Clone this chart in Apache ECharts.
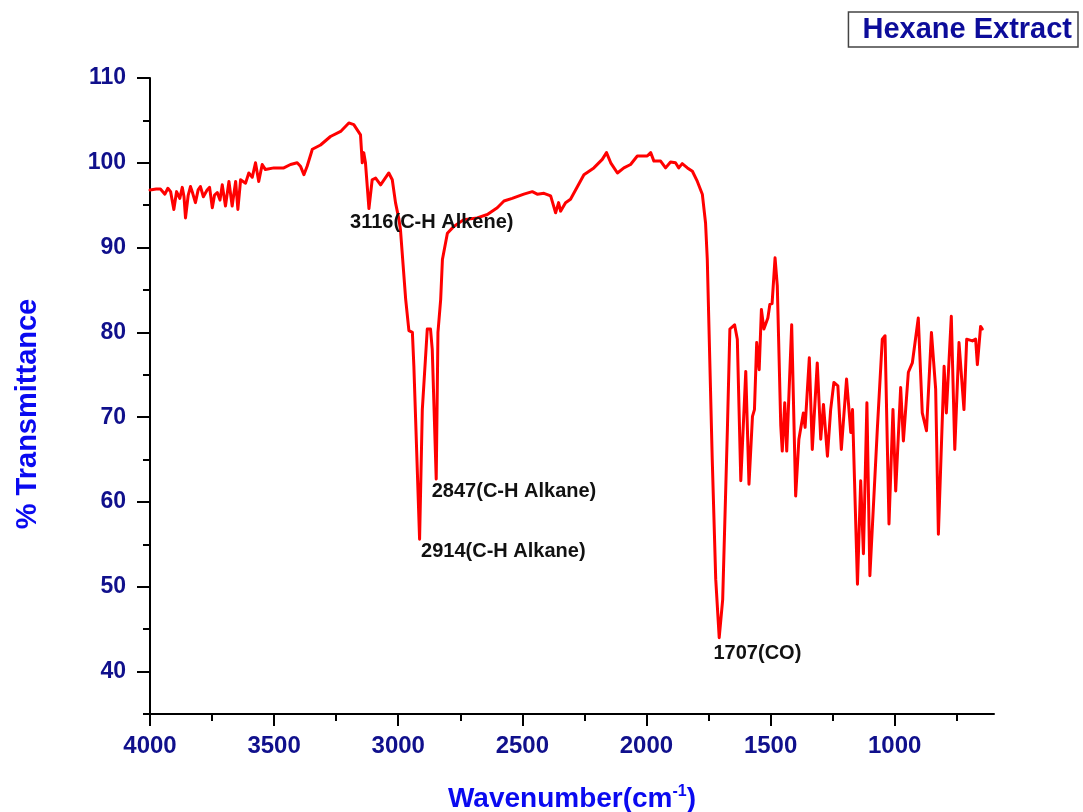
<!DOCTYPE html>
<html>
<head>
<meta charset="utf-8">
<script src="https://cdn.jsdelivr.net/npm/echarts@6/dist/echarts.min.js"></script>
<style>
  html, body { margin: 0; padding: 0; background: #fff; }
  #chart { width: 1083px; height: 812px; }
</style>
</head>
<body>
<div id="chart"></div>
<script>
// FTIR spectrum (cm-1, %T)
var wavenumber = [4000,3975,3958,3940,3928,3917,3904,3893,3880,3870,3863,3857,3846,3837,3828,3817,3806,3797,3785,3770,3760,3749,3740,3729,3718,3709,3696,3682,3669,3655,3646,3635,3615,3602,3588,3575,3562,3548,3535,3501,3461,3434,3407,3394,3380,3367,3346,3313,3273,3232,3199,3179,3152,3145,3139,3132,3118,3105,3091,3071,3038,3024,3011,2997,2991,2970,2957,2943,2937,2914,2903,2883,2870,2863,2847,2840,2829,2822,2802,2776,2736,2682,2641,2601,2574,2541,2494,2460,2440,2413,2386,2366,2354,2346,2326,2306,2252,2212,2178,2161,2144,2117,2091,2064,2037,1997,1983,1970,1943,1923,1903,1883,1870,1856,1835,1815,1795,1775,1762,1755,1735,1721,1707,1693,1674,1664,1645,1634,1620,1600,1587,1573,1565,1556,1546,1537,1527,1511,1503,1494,1482,1473,1459,1453,1443,1435,1415,1399,1386,1368,1361,1344,1332,1312,1298,1287,1271,1258,1245,1229,1215,1194,1177,1170,1150,1137,1126,1112,1100,1070,1050,1039,1023,1007,996,976,965,945,929,905,889,872,852,835,824,801,792,772,758,741,721,710,687,674,667,654,647]
var transmittance = [96.8,96.9,96.9,96.3,97.0,96.6,94.5,96.6,95.8,97.1,96.0,93.5,96.2,97.2,96.4,95.3,96.8,97.2,96.0,96.8,97.1,94.7,96.2,96.5,95.6,97.4,94.9,97.8,94.9,97.8,94.5,98.0,97.6,98.8,98.3,100.0,97.8,99.8,99.2,99.4,99.4,99.8,100.0,99.6,98.6,99.6,101.6,102.1,103.1,103.7,104.7,104.5,103.3,100.0,101.2,100.0,94.6,98.0,98.2,97.4,98.8,98.0,95.3,93.3,92.1,83.9,80.2,80.0,76.0,55.6,70.9,80.4,80.4,78.0,62.7,80.0,83.9,88.6,91.7,92.5,93.3,93.5,93.9,94.7,95.5,95.8,96.3,96.6,96.3,96.4,96.1,94.1,95.3,94.3,95.3,95.7,98.6,99.4,100.4,101.2,100.0,98.8,99.4,99.8,100.8,100.8,101.2,100.2,100.2,99.4,100.1,100.0,99.4,99.9,99.4,99.0,97.8,96.3,92.9,88.6,65.0,50.9,44.0,48.5,68.6,80.4,80.9,79.2,62.5,75.4,62.1,70.1,70.9,78.8,75.6,82.7,80.4,81.7,83.3,83.4,88.8,85.5,69.0,66.0,71.7,66.0,80.9,60.7,67.4,70.5,68.8,77.0,66.2,76.4,67.4,71.5,65.4,70.9,74.1,73.7,66.2,74.5,68.2,70.9,50.3,62.5,53.9,71.7,51.3,68.6,79.2,79.6,57.4,70.9,61.3,73.5,67.2,75.3,76.4,81.7,70.5,68.4,80.0,73.3,56.2,76.0,70.5,81.9,66.2,78.8,70.9,79.2,79.0,79.2,76.2,80.7,80.4]

// peak annotations: text and the data point where the text starts
var peakLabels = ['3116(C-H Alkene)', '2847(C-H Alkane)', '2914(C-H Alkane)', '1707(CO)']
var labelWn = [3196, 2867, 2910, 1732]
var labelT = [93.0, 61.2, 54.2, 42.1]

var xMajorTicks = [1000, 1500, 2000, 2500, 3000, 3500, 4000]
var xMinorTicks = [750, 1250, 1750, 2250, 2750, 3250, 3750]
var yMajorTicks = [40, 50, 60, 70, 80, 90, 100, 110]
var yMinorTicks = [35, 45, 55, 65, 75, 85, 95, 105]

var font = '"Liberation Sans", Arial, sans-serif'
var tickColor = '#10108c'
var titleColor = '#0a0af0'

var points = []
for (var i = 0; i < wavenumber.length; i++) {
  points.push([wavenumber[i], transmittance[i]])
}
var marks = []
for (var j = 0; j < peakLabels.length; j++) {
  marks.push({ name: peakLabels[j], coord: [labelWn[j], labelT[j]] })
}

var axisLineStyle = { color: '#000', width: 2 }

var myChart = echarts.init(document.getElementById('chart'))
var option = {
  backgroundColor: '#fff',
  animation: false,
  grid: { left: 150, right: 89, top: 78, bottom: 98, containLabel: false, outerBoundsMode: 'none' },
  legend: {
    right: 5, top: 12,
    data: [{ name: 'Hexane Extract', icon: 'none' }],
    itemWidth: 0, itemHeight: 0,
    selectedMode: false,
    borderColor: '#444', borderWidth: 1.5,
    padding: [3, 6, 3, 9],
    textStyle: { fontFamily: font, fontSize: 29, fontWeight: 'bold', color: '#0c0c9a' }
  },
  xAxis: [{
    type: 'value', inverse: true, min: 600, max: 4000,
    position: 'bottom',
    axisLine: { show: true, lineStyle: axisLineStyle },
    axisTick: { show: true, customValues: xMajorTicks, length: 12, lineStyle: axisLineStyle },
    axisLabel: {
      customValues: xMajorTicks, margin: 20,
      formatter: function (v) { return String(v) },
      fontFamily: font, fontSize: 24, fontWeight: 'bold', color: tickColor
    },
    splitLine: { show: false },
    name: '{a|Wavenumber(cm}{s|-1}{a|)}',
    nameLocation: 'middle', nameGap: 70,
    nameTextStyle: {
      rich: {
        a: { fontFamily: font, fontSize: 28, fontWeight: 'bold', color: titleColor },
        s: { fontFamily: font, fontSize: 16, fontWeight: 'bold', color: titleColor, verticalAlign: 'top', padding: [0, 0, 14, 0] }
      }
    }
  }, {
    type: 'value', inverse: true, min: 600, max: 4000,
    position: 'bottom',
    axisLine: { show: false },
    axisTick: { show: true, customValues: xMinorTicks, length: 7, lineStyle: axisLineStyle },
    axisLabel: { show: false },
    splitLine: { show: false }
  }],
  yAxis: [{
    type: 'value', min: 35, max: 110,
    position: 'left',
    axisLine: { show: true, lineStyle: axisLineStyle },
    axisTick: { show: true, customValues: yMajorTicks, length: 13, lineStyle: axisLineStyle },
    axisLabel: { customValues: yMajorTicks, margin: 24, fontFamily: font, fontSize: 23, fontWeight: 'bold', color: tickColor },
    splitLine: { show: false },
    name: '% Transmittance',
    nameLocation: 'middle', nameGap: 108, nameRotate: 90,
    nameTextStyle: { fontFamily: font, fontSize: 29, fontWeight: 'bold', color: titleColor, padding: [0, 36, 0, 0] }
  }, {
    type: 'value', min: 35, max: 110,
    position: 'left',
    axisLine: { show: false },
    axisTick: { show: true, customValues: yMinorTicks, length: 7, lineStyle: axisLineStyle },
    axisLabel: { show: false },
    splitLine: { show: false }
  }],
  series: [{
    name: 'Hexane Extract',
    type: 'line',
    xAxisIndex: 0, yAxisIndex: 0,
    data: points,
    showSymbol: false, symbol: 'none',
    lineStyle: { color: '#ff0000', width: 3, join: 'round', cap: 'round' },
    itemStyle: { color: '#ff0000' },
    z: 3,
    markPoint: {
      symbol: 'circle', symbolSize: 1,
      itemStyle: { color: 'rgba(0,0,0,0)' },
      label: {
        show: true, position: 'right', distance: 0,
        formatter: '{b}',
        fontFamily: font, fontSize: 20, fontWeight: 'bold', color: '#111'
      },
      data: marks
    }
  }]
}
myChart.setOption(option)
</script>
</body>
</html>
